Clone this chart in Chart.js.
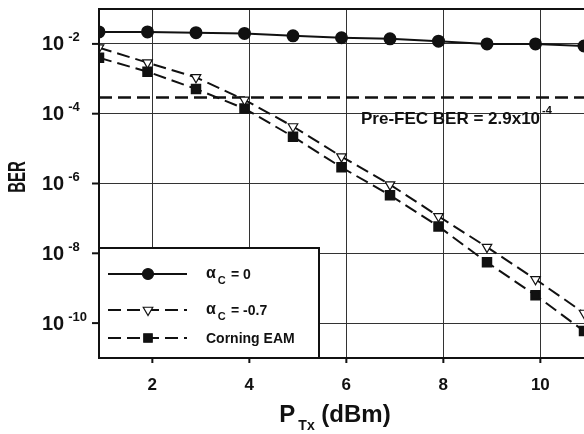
<!DOCTYPE html>
<html>
<head>
<meta charset="utf-8">
<script src="https://cdn.jsdelivr.net/npm/chart.js@4"></script>
<style>
  html, body { margin: 0; padding: 0; background: #fff; }
  #wrap { width: 584px; height: 434px; }
</style>
</head>
<body>
<div id="wrap"><canvas id="myChart" width="584" height="434"></canvas></div>
<script>
// Transmit power, as placed in the figure (markers sit a bit left of the gridlines)
const powerTx = [0.9, 1.9, 2.9, 3.9, 4.9, 5.9, 6.9, 7.9, 8.9, 9.9, 10.9];

// BER values
const berAlpha0 = [2.2e-2, 2.2e-2, 2.1e-2, 2.0e-2, 1.7e-2, 1.5e-2, 1.4e-2, 1.2e-2, 1.0e-2, 1.0e-2, 8.7e-3];
const berAlphaNeg07 = [7.8e-3, 2.9e-3, 1.1e-3, 2.5e-4, 4.3e-5, 5.9e-6, 9.3e-7, 1.15e-7, 1.5e-8, 1.8e-9, 1.95e-10];
const berCorning = [4.0e-3, 1.6e-3, 5.1e-4, 1.4e-4, 2.2e-5, 2.9e-6, 4.6e-7, 5.9e-8, 5.5e-9, 6.3e-10, 5.9e-11];

// Pre-FEC threshold
const preFec = 2.9e-4;
const preFecX = [0.9, 10.9];

// tick labels
const xTicks = [2, 4, 6, 8, 10];
const yExponents = [-2, -4, -6, -8, -10];

const FONT = '"Liberation Sans", Arial, sans-serif';

function toPoints(xs, ys) {
    return xs.map(function(x, i) { return { x: x, y: ys[i] }; });
}

// draws "base" starting at x with a raised or lowered small part after it
function drawScript(ctx, x, y, base, small, bigSize, smallSize, shift, gap) {
    ctx.textAlign = 'left';
    ctx.textBaseline = 'middle';
    ctx.font = 'bold ' + bigSize + 'px ' + FONT;
    const w1 = ctx.measureText(base).width;
    ctx.fillText(base, x, y);
    ctx.font = 'bold ' + smallSize + 'px ' + FONT;
    ctx.fillText(small, x + w1 + gap, y + shift);
}

const decorPlugin = {
    id: 'decor',
    afterDatasetsDraw(chart) {
        const ctx = chart.ctx;
        const area = chart.chartArea;
        const xs = chart.scales.x;
        const ys = chart.scales.y;
        ctx.save();
        ctx.fillStyle = '#111';
        ctx.strokeStyle = '#111';

        // frame
        ctx.lineWidth = 2;
        ctx.strokeRect(area.left, area.top, area.right - area.left + 2, area.bottom - area.top);

        // y tick labels 10^-n
        yExponents.forEach(function(e) {
            const py = ys.getPixelForValue(Math.pow(10, e));
            ctx.lineWidth = 2;
            ctx.beginPath();
            ctx.moveTo(area.left - 7, py);
            ctx.lineTo(area.left, py);
            ctx.stroke();
            drawScript(ctx, 42, py + 1, '10', String(e), 20, 13, -7, 4);
        });

        // x tick labels
        ctx.font = 'bold 17px ' + FONT;
        ctx.textAlign = 'center';
        ctx.textBaseline = 'middle';
        xTicks.forEach(function(v) {
            const px = xs.getPixelForValue(v);
            ctx.lineWidth = 2;
            ctx.beginPath();
            ctx.moveTo(px, area.bottom);
            ctx.lineTo(px, area.bottom + 5);
            ctx.stroke();
            ctx.fillText(String(v), px, 385);
        });

        // axis titles
        ctx.save();
        ctx.translate(18, 177);
        ctx.rotate(-Math.PI / 2);
        ctx.scale(1, 1.6);
        ctx.font = 'bold 15px ' + FONT;
        ctx.textAlign = 'center';
        ctx.textBaseline = 'middle';
        ctx.fillText('BER', 0, 0);
        ctx.restore();

        ctx.font = 'bold 24px ' + FONT;
        const wP = ctx.measureText('P').width;
        ctx.font = 'bold 14px ' + FONT;
        const wT = ctx.measureText('Tx').width;
        ctx.font = 'bold 24px ' + FONT;
        const wD = ctx.measureText(' (dBm)').width;
        let tx = 335 - (wP + wT + wD + 3) / 2;
        ctx.textAlign = 'left';
        ctx.fillText('P', tx, 415);
        ctx.font = 'bold 14px ' + FONT;
        ctx.fillText('Tx', tx + wP + 3, 426);
        ctx.font = 'bold 24px ' + FONT;
        ctx.fillText(' (dBm)', tx + wP + wT + 3, 415);

        // pre-FEC label
        drawScript(ctx, 361, 119, 'Pre-FEC BER = 2.9x10', '-4', 17, 11, -8, 2);

        // legend box
        const lx = area.left, ly = 248, lw = 220, lh = area.bottom - 248;
        ctx.fillStyle = '#fff';
        ctx.fillRect(lx, ly, lw, lh);
        ctx.lineWidth = 2;
        ctx.strokeRect(lx, ly, lw, lh);

        const rows = [274, 310, 338];
        const fills = ['#111', '#fff', '#111'];
        chart.data.datasets.slice(0, 3).forEach(function(ds, i) {
            const y = rows[i];
            ctx.save();
            ctx.lineWidth = ds.borderWidth;
            ctx.setLineDash(ds.borderDash || []);
            ctx.beginPath();
            ctx.moveTo(108, y);
            ctx.lineTo(187, y);
            ctx.stroke();
            ctx.restore();
            ctx.fillStyle = fills[i];
            ctx.lineWidth = 1.2;
            Chart.helpers.drawPoint(ctx, {
                pointStyle: ds.pointStyle,
                rotation: ds.pointRotation || 0,
                radius: ds.pointRadius,
                borderWidth: 1.2
            }, 148, y);
        });
        ctx.fillStyle = '#111';
        drawScript(ctx, 206, 274, '\u03b1', 'C', 16, 11, 7, 2);
        ctx.font = 'bold 14px ' + FONT;
        ctx.fillText('= 0', 231, 275);
        drawScript(ctx, 206, 310, '\u03b1', 'C', 16, 11, 7, 2);
        ctx.font = 'bold 14px ' + FONT;
        ctx.fillText('= -0.7', 231, 311);
        ctx.fillText('Corning EAM', 206, 339);
        ctx.restore();
    }
};

const ctx = document.getElementById('myChart').getContext('2d');

const myChart = new Chart(ctx, {
    type: 'line',
    data: {
        datasets: [
            {
                label: 'αC = 0',
                data: toPoints(powerTx, berAlpha0),
                borderColor: '#111',
                borderWidth: 2,
                pointStyle: 'circle',
                pointRadius: 5.5,
                pointBackgroundColor: '#111',
                pointBorderColor: '#111'
            },
            {
                label: 'αC = -0.7',
                data: toPoints(powerTx, berAlphaNeg07),
                borderColor: '#111',
                borderWidth: 2,
                borderDash: [13, 6],
                pointStyle: 'triangle',
                pointRotation: 180,
                pointRadius: 5.5,
                pointBorderWidth: 1.2,
                pointBackgroundColor: '#fff',
                pointBorderColor: '#111'
            },
            {
                label: 'Corning EAM',
                data: toPoints(powerTx, berCorning),
                borderColor: '#111',
                borderWidth: 2,
                borderDash: [13, 6],
                pointStyle: 'rect',
                pointRadius: 6,
                pointBackgroundColor: '#111',
                pointBorderColor: '#111'
            },
            {
                label: 'Pre-FEC',
                data: toPoints(preFecX, [preFec, preFec]),
                borderColor: '#111',
                borderWidth: 2.4,
                borderDash: [13, 6],
                pointRadius: 0
            }
        ]
    },
    plugins: [decorPlugin],
    options: {
        responsive: false,
        animation: false,
        layout: { autoPadding: false, padding: { top: 9, right: 0, left: 0, bottom: 0 } },
        plugins: {
            legend: { display: false },
            tooltip: { enabled: false }
        },
        elements: { line: { tension: 0 } },
        scales: {
            x: {
                type: 'linear',
                min: 0.9,
                max: 10.9,
                afterBuildTicks: function(axis) {
                    axis.ticks = xTicks.map(function(v) { return { value: v }; });
                },
                afterFit: function(axis) {
                    axis.height = 76;
                    axis.paddingLeft = 0;
                    axis.paddingRight = 0;
                },
                ticks: { display: false },
                grid: { color: '#333', lineWidth: 1, drawTicks: false },
                border: { display: false }
            },
            y: {
                type: 'logarithmic',
                min: 1e-11,
                max: 1e-1,
                afterBuildTicks: function(axis) {
                    axis.ticks = yExponents.map(function(e) { return { value: Math.pow(10, e) }; });
                },
                afterFit: function(axis) {
                    axis.width = 99;
                    axis.paddingTop = 0;
                    axis.paddingBottom = 0;
                },
                ticks: { display: false },
                grid: { color: '#333', lineWidth: 1, drawTicks: false },
                border: { display: false }
            }
        }
    }
});
</script>
</body>
</html>
